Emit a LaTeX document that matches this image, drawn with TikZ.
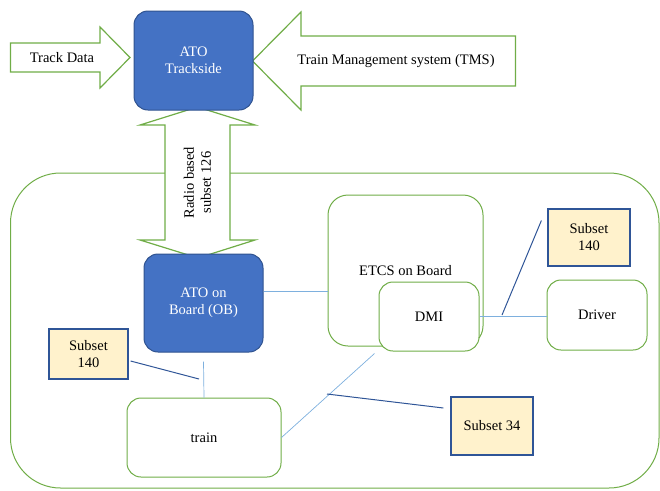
\documentclass[tikz,border=0pt]{standalone}
\usepackage{fontspec}
\setmainfont{Liberation Serif}
\usepackage{tikz}
\usetikzlibrary{calc}
\definecolor{atoblue}{HTML}{4472C4}
\definecolor{atoedge}{HTML}{2F528F}
\definecolor{grn}{HTML}{70AD47}
\definecolor{linkblue}{HTML}{7EB0DE}
\definecolor{subedge}{HTML}{2F5597}
\definecolor{cream}{HTML}{FFF2CC}
\tikzset{
	bluebox/.style={draw=atoedge,fill=atoblue,text=white,rounded corners=14pt,line width=1pt,align=center},
	greenbox/.style={draw=grn,fill=white,rounded corners=14pt,line width=1pt,align=center},
	subsetbox/.style={draw=subedge,fill=cream,line width=1.2pt,align=center},
	blockarrow/.style={draw=grn,fill=white,line width=1.2pt},
	link/.style={draw=linkblue,line width=0.7pt},
	callout/.style={draw=subedge,line width=1pt}
}

\begin{document}
\begin{tikzpicture}[x=1pt,y=-1pt,every node/.style={font=\fontsize{14.5}{17}\selectfont}]
			\useasboundingbox (0,0) rectangle (660,490);
			\draw[grn,line width=1pt,rounded corners=50pt] (10.5,173) rectangle (659,488);
			
			\draw[blockarrow] (10.5,43) -- (100,43) -- (100,27) -- (130,57.5) -- (100,88) -- (100,72) -- (10.5,72) -- cycle;
			\draw[blockarrow] (515.5,36) -- (301,36) -- (301,12) -- (252.5,61) -- (301,110) -- (301,86) -- (515.5,86) -- cycle;
			\draw[blockarrow] (197.5,107) -- (255,125) -- (230,125) -- (230,240) -- (255,240) -- (198,258) -- (140,240) -- (165,240) -- (165,125) -- (140,125) -- cycle;
			
			\node (trackdata)at(62,57.5) {Track Data};
			\node (tms)at(396,61) {Train Management system (TMS)};
			\node[rotate=90,align=center] (radio)at(197.5,182.5) {Radio based\\subset 126};
			
			\node[bluebox,minimum width=119pt,minimum height=99pt] (ats)at(193.5,60.5) {ATO\\Trackside};
			\node[bluebox,minimum width=119pt,minimum height=98pt] (aob)at(203.5,303) {ATO on\\Board (OB)};
			\node[greenbox,rounded corners=20pt,minimum width=155pt,minimum height=151pt] (etcs)at(405.5,270.5) {ETCS on Board};
			\node[greenbox,minimum width=100pt,minimum height=69pt] (dmi)at(429,316.5) {DMI};
			\node[greenbox,minimum width=100pt,minimum height=70pt] (driver)at(597,315) {Driver};
			\node[greenbox,minimum width=154pt,minimum height=79pt] (train)at(204,437.5) {train};
			\node[subsetbox,minimum width=82pt,minimum height=57pt] (sub140r)at(589,237.5) {Subset\\140};
			\node[subsetbox,minimum width=79pt,minimum height=50pt] (sub140l)at(88.5,354) {Subset\\140};
			\node[subsetbox,minimum width=82pt,minimum height=58pt] (sub34)at(492,426) {Subset 34};
			
			\coordinate (c1)at(199,379);
			\coordinate (c2)at(327,394);
			\coordinate (c3)at(502,315);
			
			\draw[link] ([shift={(0,-12)}]aob.east) coordinate (a1) -- (a1 -| etcs.west);
			\draw[link] ([shift={(0,9)}]aob.south) -- (train.north);
			\draw[link] (dmi.east) -- (dmi.east -| driver.west);
			\draw[link] (train.east) -- ([shift={(-4,2)}]dmi.south west);
			
			\draw[callout] ([shift={(2,7)}]sub140l.east) -- (c1);
			\draw[callout] ([shift={(-7,-18)}]sub34.west) -- (c2);
			\draw[callout] ([shift={(-6,-17)}]sub140r.west) -- (c3);
		\end{tikzpicture}
\end{document}
